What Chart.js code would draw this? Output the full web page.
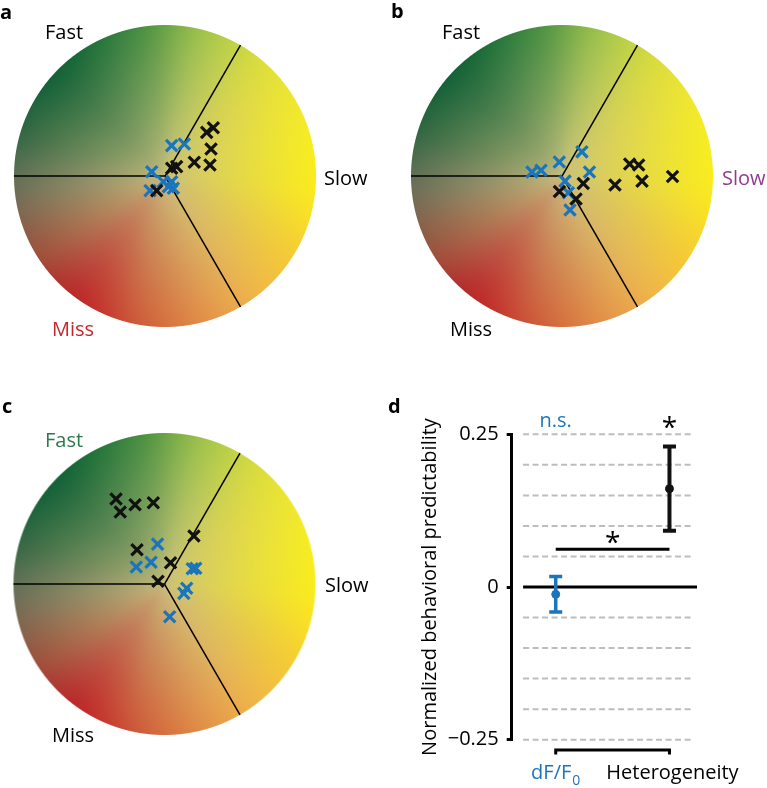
<!DOCTYPE html>
<html><head><meta charset="utf-8">
<script src="https://cdn.jsdelivr.net/npm/chart.js@4.4.1/dist/chart.umd.min.js"></script>
<style>
html,body{margin:0;padding:0;background:#fff}
#fig{position:relative;width:767px;height:788px;overflow:hidden}
#fig canvas{position:absolute}
</style></head><body>
<div id="fig">
<canvas id="ca" width="383" height="390" style="left:0;top:0"></canvas>
<canvas id="cb" width="384" height="390" style="left:383px;top:0"></canvas>
<canvas id="cc" width="383" height="398" style="left:0;top:390px"></canvas>
<canvas id="cd" width="384" height="398" style="left:383px;top:390px"></canvas>
</div>
<script>
// disc coords: centre (0,0), circle radius 1
const aBlack = [[-0.055,-0.097],[0.044,0.051],[0.077,0.062],[0.194,0.091],[0.298,0.073],[0.305,0.179],[0.276,0.289],[0.320,0.320]];
const aBlue  = [[0.044,0.201],[0.128,0.212],[-0.088,0.028],[-0.099,-0.097],[-0.011,-0.038],[0.044,-0.038],[0.055,-0.081],[0.022,-0.071]];
const bBlack = [[-0.017,-0.103],[0.141,-0.050],[0.093,-0.152],[0.351,-0.060],[0.448,0.079],[0.508,0.073],[0.530,-0.034],[0.732,-0.003]];
const bBlue  = [[-0.199,0.026],[-0.139,0.038],[-0.018,0.093],[0.132,0.160],[0.182,0.026],[0.020,-0.034],[0.042,-0.111],[0.053,-0.225]];
const cBlack = [[-0.321,0.563],[-0.293,0.477],[-0.195,0.525],[-0.074,0.538],[-0.182,0.227],[0.195,0.318],[0.040,0.141],[-0.043,0.018]];
const cBlue  = [[-0.046,0.264],[-0.089,0.144],[-0.187,0.113],[0.184,0.101],[0.207,0.104],[0.147,-0.028],[0.128,-0.062],[0.034,-0.217]];
const dividers = [60, 180, 300]; // degrees

// panel d
const groups = ['dF/F0', 'Heterogeneity'];
const means = [-0.012, 0.161];
const errs = [0.029, 0.069];
const sigLevel = 0.062;
const yTicks = [-0.25, 0, 0.25];
const gridValues = [-0.25,-0.2,-0.15,-0.1,-0.05,0.05,0.1,0.15,0.2,0.25];

const BLUE = '#1b75bc', BLACK = '#111';
const FONT = "'Open Sans', sans-serif";

// edge colour round the rim, smoothed between keys
const edgeKeys = [[0,[250,236,30]],[45,[226,224,56]],[75,[160,195,75]],[100,[72,142,66]],[132,[20,100,55]],
  [160,[45,102,64]],[185,[108,110,86]],[210,[155,82,62]],[235,[188,42,42]],[262,[208,96,58]],
  [300,[236,170,74]],[330,[246,206,50]]];
const centerCol = [200,190,126];

function edgeColor(a){
  const n=edgeKeys.length;
  const key=i=>{ const k=edgeKeys[((i%n)+n)%n]; return [k[0]+360*Math.floor(i/n), k[1]]; };
  let i=0; while(i<n-1 && a>=edgeKeys[i+1][0]) i++;
  const [t0,p0]=key(i-1),[t1,p1]=key(i),[t2,p2]=key(i+1),[t3,p3]=key(i+2);
  const h=t2-t1, s=(a-t1)/h, s2=s*s, s3=s2*s;
  return p1.map((_,k)=>{
    const m1=(p2[k]-p0[k])/(t2-t0)*h, m2=(p3[k]-p1[k])/(t3-t1)*h;
    return (2*s3-3*s2+1)*p1[k]+(s3-2*s2+s)*m1+(-2*s3+3*s2)*p2[k]+(s3-s2)*m2;
  });
}
const discCache = {};
function makeDisc(r){
  if (discCache[r]) return discCache[r];
  const n=Math.ceil(2*r)+2, cv=document.createElement('canvas'); cv.width=cv.height=n;
  const g=cv.getContext('2d'), img=g.createImageData(n,n), c=n/2;
  for(let py=0;py<n;py++) for(let px=0;px<n;px++){
    const dx=px+0.5-c, dy=c-(py+0.5), d=Math.hypot(dx,dy);
    const alpha=Math.max(0,Math.min(1,r-d+0.5)); if(!alpha) continue;
    let ang=Math.atan2(dy,dx)*180/Math.PI; if(ang<0) ang+=360;
    const e=edgeColor(ang), t=Math.pow(Math.min(1,d/r),0.8), i=(py*n+px)*4;
    for(let k=0;k<3;k++) img.data[i+k]=centerCol[k]+(e[k]-centerCol[k])*t;
    img.data[i+3]=alpha*255;
  }
  g.putImageData(img,0,0);
  return discCache[r]=cv;
}

function text(ctx, t, x, y, color, font){
  ctx.fillStyle=color||'#000'; ctx.font=font||('20px '+FONT);
  ctx.textBaseline='alphabetic'; ctx.fillText(t,x,y);
}

const discPlugin = {
  id:'disc',
  beforeDatasetsDraw(chart){
    const {ctx, scales:{x,y}} = chart;
    const cx=x.getPixelForValue(0), cy=y.getPixelForValue(0), r=x.getPixelForValue(1)-cx;
    const disc=makeDisc(r);
    ctx.save();
    ctx.drawImage(disc, cx-disc.width/2, cy-disc.height/2);
    ctx.strokeStyle='#000'; ctx.lineWidth=1.5;
    dividers.forEach(a=>{
      const rad=a*Math.PI/180;
      ctx.beginPath(); ctx.moveTo(cx,cy);
      ctx.lineTo(x.getPixelForValue(Math.cos(rad)), y.getPixelForValue(Math.sin(rad))); ctx.stroke();
    });
    ctx.restore();
  },
  afterDraw(chart, args, opts){
    const ctx=chart.ctx; ctx.save();
    (opts.labels||[]).forEach(l=>text(ctx,l.t,l.x-opts.ox,l.y-opts.oy,l.c,l.f));
    ctx.restore();
  }
};

function discChart(id, black, blue, pad, ox, oy, labels){
  const pts = arr => arr.map(([x,y])=>({x,y}));
  const mark = {pointStyle:'crossRot', pointRadius:8, pointBorderWidth:3.2, clip:false};
  return new Chart(document.getElementById(id), {
    type:'scatter',
    data:{datasets:[
      {...mark, data:pts(black), borderColor:BLACK, backgroundColor:BLACK},
      {...mark, data:pts(blue), borderColor:BLUE, backgroundColor:BLUE}
    ]},
    options:{
      responsive:false, animation:false, events:[],
      layout:{padding:pad},
      scales:{x:{type:'linear',min:-1,max:1,display:false}, y:{type:'linear',min:-1,max:1,display:false}},
      plugins:{legend:{display:false}, tooltip:{enabled:false}, disc:{labels, ox, oy}}
    },
    plugins:[discPlugin]
  });
}

const BOLD = 'bold 20px '+FONT;
discChart('ca', aBlack, aBlue, {left:14,right:67,top:25,bottom:63}, 0, 0, [
  {t:'a',x:0,y:18.5,f:BOLD},{t:'Fast',x:45,y:39},{t:'Slow',x:324,y:185},{t:'Miss',x:52,y:336,c:'#c1272d'}]);
discChart('cb', bBlack, bBlue, {left:28,right:54,top:25,bottom:63}, 383, 0, [
  {t:'b',x:391,y:17.5,f:BOLD},{t:'Fast',x:442,y:39},{t:'Slow',x:722,y:185,c:'#8e3b91'},{t:'Miss',x:450,y:336}]);
discChart('cc', cBlack, cBlue, {left:13.5,right:67.5,top:43,bottom:53}, 0, 390, [
  {t:'c',x:2,y:413,f:BOLD},{t:'Fast',x:45,y:447,c:'#2b7a4b'},{t:'Slow',x:325,y:592},{t:'Miss',x:52,y:742}]);

const barPlugin = {
  id:'bars',
  beforeDatasetsDraw(chart){
    const {ctx, scales:{x,y}} = chart;
    ctx.save();
    ctx.strokeStyle='#bdbdbd'; ctx.lineWidth=2; ctx.setLineDash([6,3.5]);
    gridValues.forEach(v=>{
      ctx.beginPath(); ctx.moveTo(x.getPixelForValue(-0.287), y.getPixelForValue(v));
      ctx.lineTo(x.getPixelForValue(1.215), y.getPixelForValue(v)); ctx.stroke();
    });
    ctx.setLineDash([]);
    ctx.strokeStyle='#000'; ctx.lineWidth=3;
    ctx.beginPath(); ctx.moveTo(x.getPixelForValue(-0.287), y.getPixelForValue(0));
    ctx.lineTo(chart.chartArea.right, y.getPixelForValue(0)); ctx.stroke();
    // significance line
    ctx.beginPath(); ctx.moveTo(x.getPixelForValue(0), y.getPixelForValue(sigLevel));
    ctx.lineTo(x.getPixelForValue(1), y.getPixelForValue(sigLevel)); ctx.stroke();
    // error bars
    means.forEach((m,i)=>{
      const px=x.getPixelForValue(i), top=y.getPixelForValue(m+errs[i]), bot=y.getPixelForValue(m-errs[i]);
      ctx.strokeStyle=i===0?BLUE:BLACK; ctx.lineWidth=i===0?3.5:4;
      ctx.beginPath(); ctx.moveTo(px,top); ctx.lineTo(px,bot);
      ctx.moveTo(px-6.5,top); ctx.lineTo(px+6.5,top);
      ctx.moveTo(px-6.5,bot); ctx.lineTo(px+6.5,bot); ctx.stroke();
    });
    ctx.restore();
  },
  afterDraw(chart){
    const {ctx, scales:{x,y}} = chart;
    const x0=x.getPixelForValue(0), x1=x.getPixelForValue(1);
    ctx.save();
    const star=(cx,cy)=>{
      ctx.font='28px '+FONT; const m=ctx.measureText('*');
      ctx.fillStyle='#000'; ctx.textAlign='center'; ctx.textBaseline='alphabetic';
      ctx.fillText('*', cx, cy+(m.actualBoundingBoxAscent-m.actualBoundingBoxDescent)/2);
    };
    star((x0+x1)/2, 147);
    star(x1, 32.5);
    ctx.textAlign='center';
    text(ctx,'n.s.',x0,37.3,BLUE);
    // bracket
    ctx.strokeStyle='#000'; ctx.lineWidth=3;
    ctx.beginPath(); ctx.moveTo(x0,364.5); ctx.lineTo(x0,360); ctx.lineTo(x1,360); ctx.lineTo(x1,364.5); ctx.stroke();
    // category labels
    ctx.textAlign='left';
    ctx.font='20px '+FONT; const w1=ctx.measureText('dF/F').width;
    ctx.font='14px '+FONT; const w2=ctx.measureText('0').width;
    const sx=x0-(w1+w2+1)/2;
    text(ctx,'dF/F',sx,389,BLUE);
    text(ctx,'0',sx+w1+1,395,BLUE,'14px '+FONT);
    ctx.textAlign='center';
    text(ctx,groups[1],x1+3,389,'#000');
    ctx.textAlign='left';
    text(ctx,'d',5,23,'#000',BOLD);
    ctx.restore();
  }
};

new Chart(document.getElementById('cd'), {
  type:'scatter',
  data:{datasets:[{
    data:means.map((m,i)=>({x:i,y:m})),
    pointRadius:4, pointBackgroundColor:[BLUE,BLACK], pointBorderColor:[BLUE,BLACK], clip:false
  }]},
  options:{
    responsive:false, animation:false, events:[],
    layout:{padding:{left:0,right:70,top:44.3,bottom:48.3}},
    scales:{
      x:{type:'linear',min:-0.387,max:1.242,display:false},
      y:{type:'linear',min:-0.25,max:0.25,
        afterBuildTicks:s=>{ s.ticks=yTicks.map(v=>({value:v})); },
        afterFit:s=>{ s.width=128.7; },
        border:{display:true,color:'#000',width:3},
        grid:{display:true,drawOnChartArea:false,drawTicks:true,tickLength:5,color:'#000',lineWidth:3},
        ticks:{color:'#000',padding:8,font:{family:FONT,size:20},
          callback:v=>v===0?'0':(v<0?'\u2212':'')+Math.abs(v).toFixed(2)},
        title:{display:true,text:'Normalized behavioral predictability',color:'#000',
          font:{family:FONT,size:20},padding:{top:35,bottom:0}}
      }
    },
    plugins:{legend:{display:false},tooltip:{enabled:false}}
  },
  plugins:[barPlugin]
});
</script>
</body></html>
